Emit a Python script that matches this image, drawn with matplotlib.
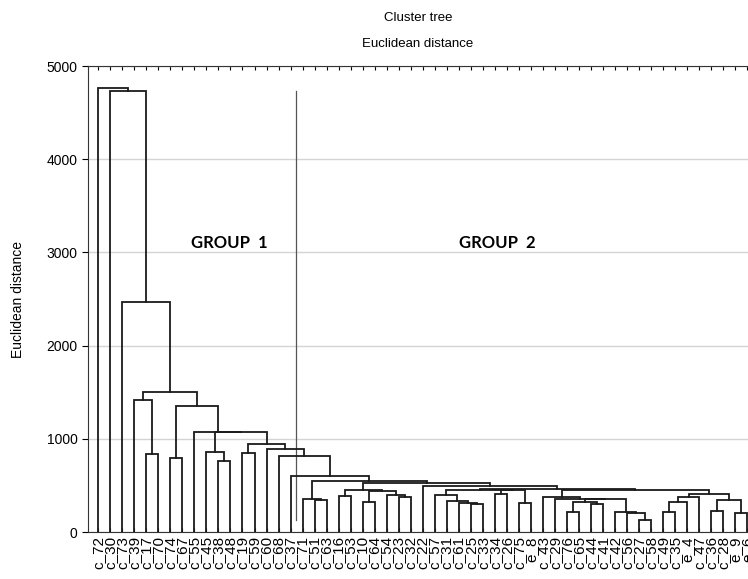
import matplotlib
matplotlib.use("Agg")
import matplotlib.pyplot as plt

# leaf labels, left to right
leaf_labels = [
    "c_72", "c_30", "c_73", "c_39", "c_17", "c_70", "c_74", "c_67", "c_55", "c_45",
    "c_38", "c_48", "c_19", "c_59", "c_60", "c_68", "c_37", "c_71", "c_51", "c_63",
    "c_16", "c_53", "c_10", "c_64", "c_54", "c_23", "c_32", "c_22", "c_57", "c_31",
    "c_61", "c_25", "c_33", "c_34", "c_26", "c_75", "e_8", "c_43", "c_29", "c_76",
    "c_65", "c_44", "c_41", "c_42", "c_56", "c_27", "c_58", "c_49", "c_35", "e_4",
    "c_47", "c_36", "c_28", "e_9", "e_6",
]

# merges: ids < 55 are leaves, id 55+k is merge k
merge_left = [4, 3, 6, 10, 9, 12, 18, 17, 20, 22,
              25, 24, 64, 63, 31, 30, 29, 28, 33, 35,
              73, 72, 39, 41, 77, 45, 44, 43, 79, 38,
              37, 47, 86, 87, 51, 53, 89, 88, 85, 76,
              27, 68, 62, 16, 15, 14, 60, 59, 8, 57,
              56, 2, 1, 0]
merge_right = [5, 55, 7, 11, 58, 13, 19, 61, 21, 23,
               26, 65, 66, 67, 32, 69, 70, 71, 34, 36,
               74, 75, 40, 42, 78, 46, 80, 81, 82, 83,
               84, 48, 49, 50, 52, 54, 90, 91, 92, 93,
               94, 95, 96, 97, 98, 99, 100, 101, 102, 103,
               104, 105, 106, 107]
merge_height = [833, 1416, 790, 765, 862, 844, 343, 354, 386, 325,
                379, 397, 440, 451, 300, 308, 336, 397, 408, 315,
                448, 456, 218, 300, 318, 129, 207, 218, 350, 355,
                379, 218, 326, 379, 229, 207, 343, 408, 452, 464,
                497, 522, 547, 601, 819, 887, 944, 1068, 1078, 1352,
                1499, 2468, 4730, 4760]

y_ticks = [0, 1000, 2000, 3000, 4000, 5000]


def main():
    plt.rcParams["font.family"] = ["Liberation Sans", "DejaVu Sans"]
    fig = plt.figure(figsize=(7.48, 5.79), dpi=100)
    ax = fig.add_axes([88 / 748, 1 - 532 / 579, 1 - 88 / 748, (532 - 66) / 579])

    n = len(leaf_labels)
    pos = {i: (float(i), 0.0) for i in range(n)}
    for k, (l, r, h) in enumerate(zip(merge_left, merge_right, merge_height)):
        xl, yl = pos[l]
        xr, yr = pos[r]
        ax.plot([xl, xl, xr, xr], [yl, h, h, yr], color="#1a1a1a", lw=1.3,
                solid_joinstyle="miter", zorder=3)
        pos[n + k] = ((xl + xr) / 2, h)

    # group divider
    ax.plot([16.45, 16.45], [130, 4730], color="#555555", lw=0.9, zorder=2)
    ax.text(10.9, 3100, "GROUP  1", fontsize=12, fontweight="bold",
            family=["Lato", "DejaVu Sans"], ha="center", va="center")
    ax.text(33.2, 3100, "GROUP  2", fontsize=12, fontweight="bold",
            family=["Lato", "DejaVu Sans"], ha="center", va="center")

    ax.set_xlim(-0.85, 54.05)
    ax.set_ylim(0, 5000)
    ax.set_yticks(y_ticks)
    ax.set_yticklabels([str(v) for v in y_ticks], fontsize=10)
    ax.set_xticks(range(n))
    ax.set_xticklabels(leaf_labels, rotation=90, fontsize=11)
    ax.tick_params(axis="x", top=True, bottom=True, direction="in", length=3, pad=3)
    ax.tick_params(axis="y", direction="out", length=4)
    ax.grid(axis="y", color="#d4d4d4", lw=1)
    ax.set_axisbelow(True)
    ax.spines["right"].set_visible(False)
    for s in ["left", "top", "bottom"]:
        ax.spines[s].set_color("#333333")

    fig.text(418 / 748, 1 - 18 / 579, "Cluster tree", ha="center", va="center", fontsize=9.5)
    fig.text(418 / 748, 1 - 44 / 579, "Euclidean distance", ha="center", va="center", fontsize=9.5)
    fig.text(18 / 748, 1 - 300 / 579, "Euclidean distance", rotation=90,
             ha="center", va="center", fontsize=10)

    fig.savefig("out.png", dpi=100)


if __name__ == "__main__":
    main()
